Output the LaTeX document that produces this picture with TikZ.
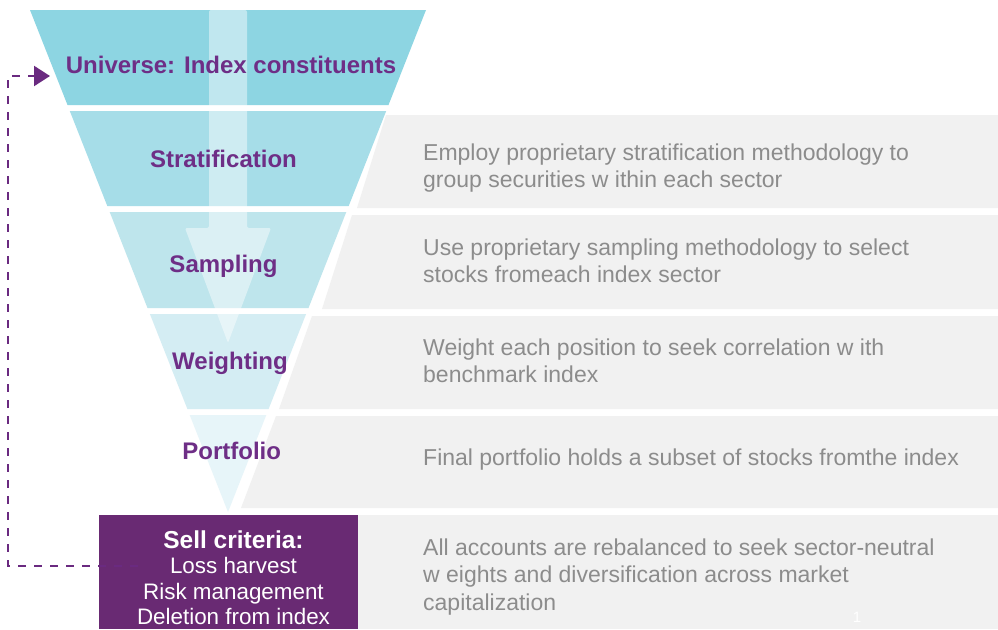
\documentclass[tikz,border=0pt]{standalone}
\usepackage{fontspec}
\setmainfont{Liberation Sans}
\usetikzlibrary{arrows.meta}
\definecolor{bandA}{HTML}{8DD5E2}
\definecolor{bandB}{HTML}{A6DDE8}
\definecolor{bandC}{HTML}{BEE5EC}
\definecolor{bandD}{HTML}{D4EDF3}
\definecolor{bandE}{HTML}{E7F5F9}
\definecolor{panelgray}{HTML}{F1F1F1}
\definecolor{descgray}{HTML}{8C8C8C}
\definecolor{labelpurple}{HTML}{6E2E86}
\definecolor{linepurple}{HTML}{6A2A80}
\definecolor{boxpurple}{HTML}{692A73}
\tikzset{
  panel/.style={fill=panelgray, draw=none},
  lbl/.style={font=\fontsize{24}{28}\selectfont\bfseries, text=labelpurple, inner sep=0pt, anchor=base},
  desc/.style={font=\fontsize{23}{27.5}\selectfont, text=descgray, inner sep=0pt, anchor=north west, align=left},
  loopline/.style={draw=linepurple, line width=2.3pt, dash pattern=on 8pt off 8pt, -{Triangle[length=16pt,width=20pt]}},
}
\begin{document}
\begin{tikzpicture}[x=1pt,y=-1pt]
\useasboundingbox (0,0) rectangle (998,629);
\fill[white] (0,0) rectangle (998,629);
% gray description panels
\path[panel] (386,115) -- (998,115) -- (998,208) -- (357,208) -- cycle;
\path[panel] (352,215) -- (998,215) -- (998,309) -- (322,309) -- cycle;
\path[panel] (312,316) -- (998,316) -- (998,409) -- (279,409) -- cycle;
\path[panel] (276,416) -- (998,416) -- (998,508) -- (241,508) -- cycle;
\path[panel] (358,515) -- (998,515) -- (998,629) -- (358,629) -- cycle;
% funnel bands
\fill[bandA] (30,10) -- (426,10) -- (388.5,105) -- (67.5,105) -- cycle;
\fill[bandB] (69.8,111) -- (386.2,111) -- (348.7,206) -- (107.3,206) -- cycle;
\fill[bandC] (109.7,212) -- (346.3,212) -- (308.5,308) -- (147.5,308) -- cycle;
\fill[bandD] (149.9,314) -- (306.1,314) -- (268.6,409) -- (187.4,409) -- cycle;
\fill[bandE] (189.7,415) -- (266.3,415) -- (228,512) -- cycle;
% translucent down arrow
\fill[white, fill opacity=0.45, rounded corners=2pt]
  (209,10) -- (247,10) -- (247,228) -- (271,228) -- (228,343) -- (185,228) -- (209,228) -- cycle;
% funnel labels
\node[lbl] (univ) at (231,73) {Universe: Index constituents};
\node[lbl] (strat) at (223.5,167) {Stratification};
\node[lbl] (samp) at (223.5,272.7) {Sampling};
\node[lbl] (weight) at (230,369) {Weighting};
\node[lbl] (port) at (231.7,459) {Portfolio};
% descriptions
\node[desc] (dstrat) at (423,140.75) {\strut Employ  proprietary stratification methodology to\\group securities w ithin each sector};
\node[desc] (dsamp) at (423,235.75) {\strut Use proprietary sampling methodology to select\\stocks fromeach index sector};
\node[desc] (dweight) at (423,335.75) {\strut Weight each position to seek correlation w ith\\benchmark index};
\node[desc] (dport) at (423,445.75) {\strut Final portfolio holds a subset of stocks fromthe index};
\node[desc] (dsell) at (423,535.75) {\strut All accounts are rebalanced to seek sector-neutral\\w eights and diversification across market\\capitalization};
% sell criteria box
\node[fill=boxpurple, minimum width=258.7pt, minimum height=114pt, inner sep=0pt] (sell) at (228.35,572) {};
% feedback loop
\coordinate (loopin) at (50,76);
\coordinate (loopcorner) at (8,76);
\draw[loopline] ([xshift=39pt,yshift=6pt]sell.west) -| (loopcorner) -- (loopin);
\node[font=\fontsize{22.4}{25.5}\selectfont, text=white, align=center, inner sep=0pt, anchor=north] (selltext) at (233.5,530.15)
  {{\fontsize{24.5}{25.5}\selectfont\bfseries\strut Sell criteria:}\\Loss harvest\\Risk management\\Deletion from index};
% page number
\node[font=\fontsize{15}{18}\selectfont, text=white, inner sep=0pt] (pgnum) at (857,617) {1};
\end{tikzpicture}
\end{document}
